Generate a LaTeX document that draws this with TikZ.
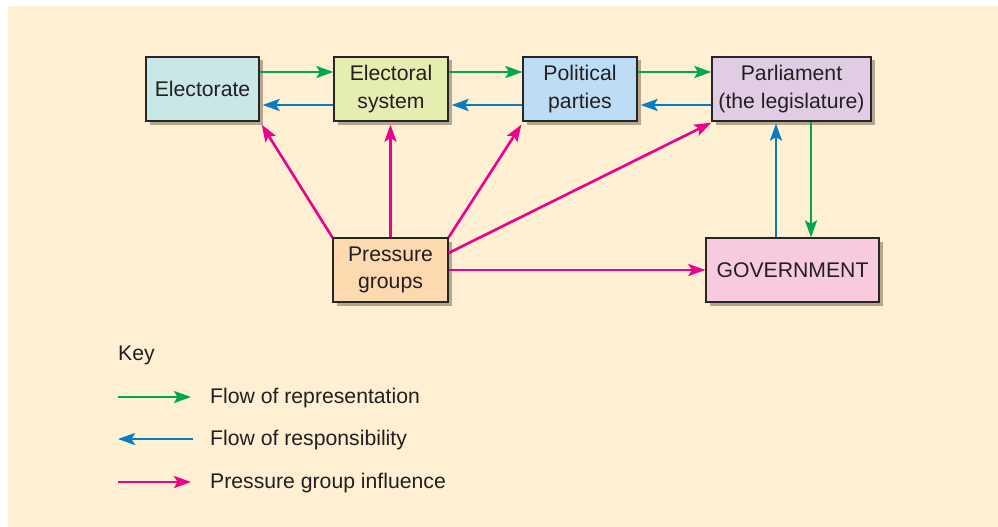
\documentclass[tikz,border=0pt]{standalone}
\usepackage{fontspec}
\setmainfont{Liberation Sans}
\usetikzlibrary{arrows.meta,shadows}
\definecolor{bgcream}{HTML}{FFEFD3}
\definecolor{repgreen}{HTML}{00A651}
\definecolor{resblue}{HTML}{0A7CC4}
\definecolor{prpink}{HTML}{EC008C}
\definecolor{shadowc}{HTML}{B5A78E}
\definecolor{txt}{HTML}{231F20}
\definecolor{fElectorate}{HTML}{C9E7E6}
\definecolor{fSystem}{HTML}{E6EDB1}
\definecolor{fParties}{HTML}{BCDDF5}
\definecolor{fParl}{HTML}{E1CDE3}
\definecolor{fPressure}{HTML}{FDD9AF}
\definecolor{fGov}{HTML}{F8CAE0}
\tikzset{
  box/.style={draw=black!85, line width=1.2pt, minimum height=64pt, align=center,
    text=txt, font=\fontsize{21.2}{27.5}\selectfont, inner sep=0pt,
    drop shadow={shadow xshift=3.5pt, shadow yshift=-3.5pt, fill=shadowc, opacity=1}},
  conn/.style={line width=2.6pt, -{Stealth[length=17pt,width=12pt,inset=3.5pt]}},
  rep/.style={conn, draw=repgreen, fill=repgreen},
  res/.style={conn, draw=resblue, fill=resblue},
  prs/.style={conn, draw=prpink, fill=prpink},
  keytext/.style={anchor=west, text=txt, font=\fontsize{21.2}{25}\selectfont, inner sep=0pt}
}
\begin{document}
\begin{tikzpicture}[x=1pt,y=-1pt]
\useasboundingbox (0,0) rectangle (998,527);
\fill[bgcream] (8,6) rectangle (998,527);

\node[box, fill=fElectorate, minimum width=113pt] (ele) at (202.5,89) {Electorate};
\node[box, fill=fSystem, minimum width=114pt] (sys) at (391,89) {Electoral\\system};
\node[box, fill=fParties, minimum width=114pt] (par) at (580,89) {Political\\parties};
\node[box, fill=fParl, minimum width=159pt] (parl) at (791.5,89) {Parliament\\(the legislature)};
\node[box, fill=fPressure, minimum width=115pt] (pg) at (390.5,270) {Pressure\\groups};
\node[box, fill=fGov, minimum width=173pt] (gov) at (792.5,270) {GOVERNMENT};

% representation (green)
\draw[rep] ([yshift=17pt]ele.east) -- ([yshift=17pt]sys.west);
\draw[rep] ([yshift=17pt]sys.east) -- ([yshift=17pt]par.west);
\draw[rep] ([yshift=17pt]par.east) -- ([yshift=17pt]parl.west);
\draw[rep] ([xshift=19.5pt]parl.south) -- ([xshift=19.5pt]parl.south |- gov.north);

% responsibility (blue)
\draw[res] ([yshift=-16pt]sys.west) -- ([yshift=-16pt,xshift=3pt]ele.east);
\draw[res] ([yshift=-16pt]par.west) -- ([yshift=-16pt,xshift=3pt]sys.east);
\draw[res] ([yshift=-16pt]parl.west) -- ([yshift=-16pt,xshift=3pt]par.east);
\draw[res] ([xshift=-15.5pt]parl.south |- gov.north) -- ([xshift=-15.5pt,yshift=-2pt]parl.south);

% pressure group influence (pink)
\draw[prs] (pg.north west) -- ([xshift=2pt,yshift=-3pt]ele.south east);
\draw[prs] (pg.north) -- ([yshift=-3pt]pg.north |- sys.south);
\draw[prs] (pg.north east) -- ([xshift=-1pt,yshift=-3pt]par.south west);
\draw[prs] ([yshift=17pt]pg.east) -- ([yshift=-1pt]parl.south west);
\draw[prs] (pg.east) -- (gov.west);

% key
\node[keytext] (key) at (118,355) {Key};
\coordinate (k1a) at (118,397); \coordinate (k1b) at (191,397);
\coordinate (k2a) at (118,439); \coordinate (k2b) at (193,439);
\coordinate (k3a) at (118,482); \coordinate (k3b) at (191,482);
\draw[rep] (k1a) -- (k1b);
\draw[res] (k2b) -- (k2a);
\draw[prs] (k3a) -- (k3b);
\node[keytext] (t1) at (210,398) {Flow of representation};
\node[keytext] (t2) at (210,440) {Flow of responsibility};
\node[keytext] (t3) at (210,483) {Pressure group influence};
\end{tikzpicture}
\end{document}
